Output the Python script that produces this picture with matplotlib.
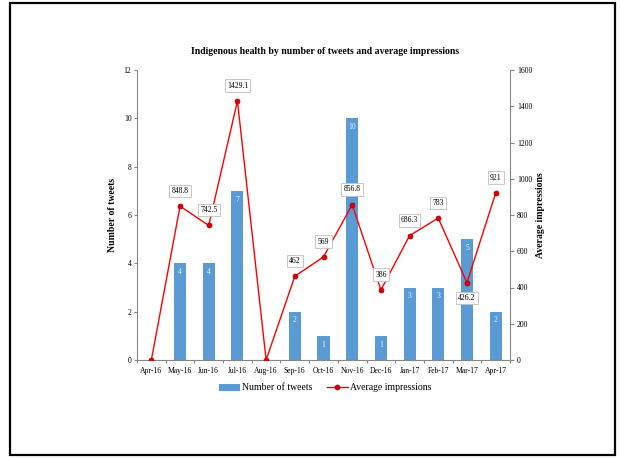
import matplotlib
matplotlib.use("Agg")
import matplotlib.pyplot as plt
from matplotlib.patches import Rectangle
import numpy as np

months = ["Apr-16", "May-16", "Jun-16", "Jul-16", "Aug-16", "Sep-16", "Oct-16",
          "Nov-16", "Dec-16", "Jan-17", "Feb-17", "Mar-17", "Apr-17"]
tweets = [0, 4, 4, 7, 0, 2, 1, 10, 1, 3, 3, 5, 2]
impressions = [0, 848.8, 742.5, 1429.1, 0, 462, 569, 856.8, 386, 686.3, 783, 426.2, 921]
# months whose value box sits under the marker
label_below = {"Mar-17"}

plt.rcParams['font.family'] = ['Liberation Serif', 'DejaVu Serif']

fig = plt.figure(figsize=(6.21, 4.59), dpi=100)
fig.patches.append(Rectangle((10/621, 1-455/459), 605/621, 452/459,
                             transform=fig.transFigure, fill=False,
                             edgecolor='black', linewidth=1.6))

ax = fig.add_axes([137/621, 1-360/459, 373/621, 290/459])
ax2 = ax.twinx()

x = np.arange(len(months))
bars = ax.bar(x, tweets, width=0.42, color='#5B9BD5', zorder=2, label='Number of tweets')
for xi, v in zip(x, tweets):
    if v > 0:
        ax.text(xi, v - 0.2, f"{v}", ha='center', va='top', color='#EAF2FA', fontsize=5.5)

line, = ax2.plot(x, impressions, color='#FF0000', linewidth=1, marker='o',
                 markersize=3.5, markerfacecolor='#E00000', markeredgecolor='#A00000',
                 markeredgewidth=0.6, label='Average impressions', zorder=3)
for xi, v, m in zip(x, impressions, months):
    if v == 0:
        continue
    off = -11 if m in label_below else 11
    ax2.annotate(f"{v:g}", (xi, v), xytext=(0, off), textcoords='offset points',
                 ha='center', va='center', fontsize=5.5,
                 bbox=dict(boxstyle='square,pad=0.3', facecolor='white',
                           edgecolor='#BFBFBF', linewidth=0.6))

ax.set_ylim(0, 12)
ax.set_yticks(range(0, 13, 2))
ax2.set_ylim(0, 1600)
ax2.set_yticks(range(0, 1601, 200))
ax.set_xlim(-0.5, len(months) - 0.5)

# tick marks on the category boundaries, labels at the centres
ax.set_xticks(np.arange(-0.5, len(months), 1.0))
ax.set_xticklabels([])
ax.set_xticks(x, minor=True)
ax.set_xticklabels(months, minor=True)
ax.tick_params(axis='x', which='minor', length=0, labelsize=5.5, pad=5)
ax.tick_params(axis='x', which='major', length=2.5, color='#868686')
ax.tick_params(axis='y', length=2, color='#868686', labelsize=5.5, pad=2)
ax2.tick_params(axis='y', length=3, color='#868686', labelsize=5.5, pad=2)

for a in (ax, ax2):
    a.spines['top'].set_visible(False)
    for s in ('left', 'right', 'bottom'):
        a.spines[s].set_color('#868686')
        a.spines[s].set_linewidth(0.8)
ax.spines['right'].set_visible(False)
ax2.spines['left'].set_visible(False)
ax2.spines['bottom'].set_visible(False)

ax.set_ylabel("Number of tweets", fontsize=7, fontweight='bold', labelpad=5)
ax2.set_ylabel("Average impressions", fontsize=7, fontweight='bold', labelpad=3)
fig.text(325/621, 1-52/459, "Indigenous health by number of tweets and average impressions",
         ha='center', va='center', fontsize=7, fontweight='bold')

fig.legend([bars, line], ["Number of tweets", "Average impressions"],
           loc='center', bbox_to_anchor=(325/621, 1-388/459), ncol=2,
           frameon=False, fontsize=7, handlelength=2.2, handletextpad=0.2,
           columnspacing=1.5)

fig.savefig("out.png", dpi=100)
